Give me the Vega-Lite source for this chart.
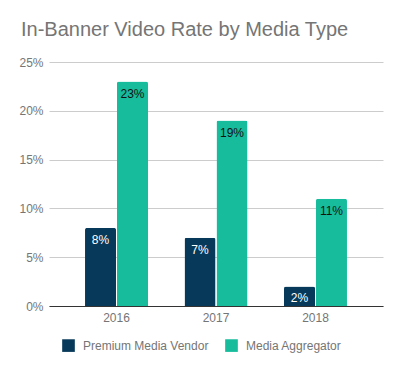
{
  "$schema": "https://vega.github.io/schema/vega-lite/v6.json",
  "width": 334,
  "height": 244,
  "padding": {"left": 18, "top": 20, "right": 21, "bottom": 5},
  "background": "white",
  "config": {
    "font": "Liberation Sans",
    "view": {"stroke": null}
  },
  "title": {
    "text": "In-Banner Video Rate by Media Type",
    "anchor": "start",
    "frame": "bounds",
    "fontSize": 20,
    "font": "Liberation Sans",
    "fontWeight": "normal",
    "color": "#757575",
    "offset": 16,
    "dx": 2
  },
  "data": {
    "values": [
      {"year": "2016", "type": "Premium Media Vendor", "rate": 0.08},
      {"year": "2016", "type": "Media Aggregator", "rate": 0.23},
      {"year": "2017", "type": "Premium Media Vendor", "rate": 0.07},
      {"year": "2017", "type": "Media Aggregator", "rate": 0.19},
      {"year": "2018", "type": "Premium Media Vendor", "rate": 0.02},
      {"year": "2018", "type": "Media Aggregator", "rate": 0.11}
    ]
  },
  "encoding": {
    "x": {
      "field": "year",
      "type": "nominal",
      "scale": {"paddingInner": 0.367, "paddingOuter": 0.362},
      "axis": {
        "title": null,
        "labelAngle": 0,
        "labelFontSize": 12,
        "labelColor": "#757575",
        "labelPadding": 6,
        "ticks": false,
        "domainColor": "#333333",
        "domainWidth": 1,
        "grid": false
      }
    },
    "xOffset": {
      "field": "type",
      "sort": ["Premium Media Vendor", "Media Aggregator"],
      "scale": {"paddingInner": 0.03}
    },
    "y": {
      "field": "rate",
      "type": "quantitative",
      "scale": {"domain": [0, 0.25]},
      "axis": {
        "title": null,
        "format": ".0%",
        "values": [0, 0.05, 0.1, 0.15, 0.2, 0.25],
        "labelFontSize": 12,
        "labelColor": "#757575",
        "labelPadding": 6,
        "ticks": false,
        "domain": false,
        "gridColor": "#cccccc",
        "gridWidth": 1
      }
    }
  },
  "layer": [
    {
      "mark": {"type": "bar", "cornerRadiusTopLeft": 2, "cornerRadiusTopRight": 2},
      "encoding": {
        "color": {
          "field": "type",
          "type": "nominal",
          "sort": ["Premium Media Vendor", "Media Aggregator"],
          "scale": {"domain": ["Premium Media Vendor", "Media Aggregator"], "range": ["#073A5A", "#17BC9D"]},
          "legend": {
            "title": null,
            "orient": "none",
            "direction": "horizontal",
            "legendX": 13,
            "legendY": 277,
            "symbolType": "square",
            "symbolSize": 160,
            "symbolStrokeWidth": 0,
            "labelFontSize": 12,
            "labelColor": "#757575",
            "labelOffset": 8,
            "columnPadding": 16
          }
        }
      }
    },
    {
      "mark": {"type": "text", "baseline": "top", "dy": 7, "fontSize": 12},
      "encoding": {
        "text": {"field": "rate", "type": "quantitative", "format": ".0%"},
        "color": {
          "condition": {"test": "datum.type === 'Premium Media Vendor'", "value": "#ffffff"},
          "value": "#111111"
        }
      }
    }
  ]
}
